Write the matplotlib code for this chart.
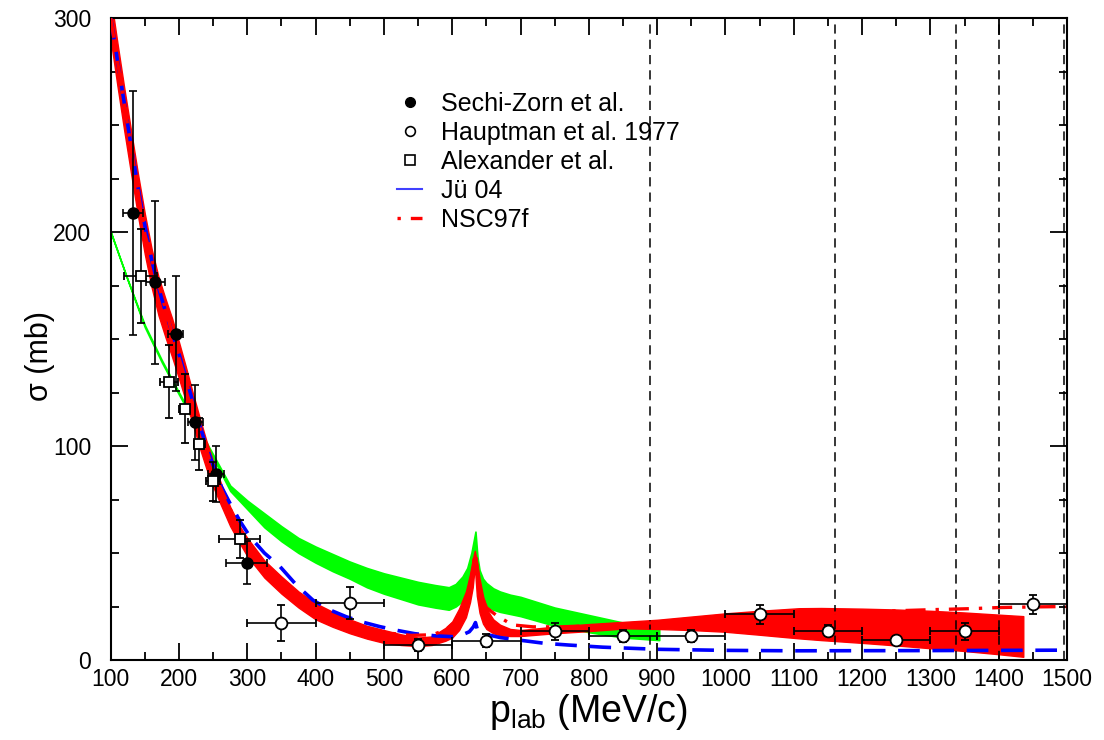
import matplotlib
matplotlib.use('Agg')
import matplotlib.pyplot as plt
from matplotlib.lines import Line2D
from matplotlib.ticker import MultipleLocator

# ---------------- data ----------------
# Sechi-Zorn et al. (filled circles)
sz_x = [133, 165, 195, 224, 254, 299]
sz_y = [209, 176.5, 152.5, 111, 87, 45.5]
sz_dy = [57, 38, 27, 17.5, 13, 10]
sz_dx = [15, 14, 11, 11, 12, 30]

# Hauptman et al. 1977 (open circles)
hp_x = [350, 450, 550, 650, 750, 850, 950, 1050, 1150, 1250, 1350, 1450]
hp_y = [17.2, 26.8, 7.0, 9.0, 13.5, 11.2, 11.2, 21.3, 13.7, 9.3, 13.5, 26.0]
hp_dy = [8.5, 7.5, 3, 3, 4, 3, 3, 4.5, 2.5, 2, 4, 4.5]
hp_dx = [50] * 12

# Alexander et al. (open squares)
al_x = [144, 185, 208.5, 229.5, 250, 289]
al_y = [179.5, 130, 117.5, 101, 83.5, 56.5]
al_dy = [22, 17, 16, 12, 9, 9]
al_dx = [24, 13, 8, 8, 10, 30]

# red band
red_x = [100, 110, 120, 130, 140, 150, 160, 170, 180, 190, 200, 210, 220, 230, 240,
         250, 262, 275, 290, 300, 325, 350, 375, 400, 425, 450, 475, 500, 525, 550,
         570, 590, 600, 610, 620, 626, 630, 633, 636, 640, 645, 650, 660, 670, 685,
         700, 750, 800, 855, 900, 950, 1000, 1050, 1108, 1140, 1200, 1250, 1300,
         1350, 1400, 1436]
red_lo = [290, 268, 247, 227, 207.5, 189.5, 174, 161, 151, 141.5, 131.5, 121, 110.5,
          99.5, 89.5, 81, 72, 62.5, 54, 48.5, 38.5, 31, 24.5, 19, 15.5, 12.5, 10, 8,
          7, 6.5, 7, 9, 10.5, 14, 20, 27, 34, 44, 30, 22, 17, 14.5, 12.5, 11.5, 11.2,
          11.2, 12.5, 13.5, 14.8, 14.5, 14, 13.2, 11.8, 10.1, 9.3, 8, 6.8, 5.5, 4.2,
          2.7, 1.5]
red_hi = [310, 288, 267, 247, 227, 208.5, 192, 179, 169, 159.5, 148.5, 137, 125,
          113.5, 102.5, 93, 82, 71.5, 62, 57, 46.5, 39, 32, 26.5, 22.5, 19, 16, 14,
          12, 10.5, 11, 15, 18, 24, 32, 40, 47, 51, 46, 38, 30, 24, 19, 16.5, 14.5,
          14, 15.6, 16.8, 17.9, 18.8, 20.3, 21.8, 23, 24.2, 24.3, 24, 23.6, 23,
          22.2, 21.2, 20.5]

# green band
green_x = [100, 125, 150, 175, 200, 225, 250, 275, 300, 325, 350, 375, 400, 425, 450,
           475, 500, 525, 550, 575, 595, 605, 615, 622, 628, 631, 634, 637, 640, 645,
           650, 660, 670, 685, 700, 750, 800, 850, 903]
green_hi = [200, 177.5, 156.5, 140, 125, 110.5, 96, 81.5, 74.5, 68.5, 62.5, 57, 53,
            49.5, 46, 43, 40.5, 38.5, 36.5, 35, 34, 35.5, 39, 43, 50, 55, 60, 48, 42,
            38, 36, 33.5, 32, 30.5, 29.5, 24.5, 21, 17.5, 15.5]
green_lo = [200, 177.5, 155.5, 139, 124, 109.5, 94.5, 79, 70.5, 62, 55.5, 50, 45.5,
            41.5, 38, 34, 31, 28.5, 26, 24.5, 23.5, 25, 27.5, 30.5, 35, 40, 46, 36, 33,
            28.5, 25.5, 23.5, 22.5, 21.5, 20.5, 16, 13, 10.5, 9.3]

# Jü 04 (blue dashed)
ju_x = [100, 110, 120, 130, 140, 150, 160, 170, 180, 190, 200, 210, 220, 230, 240, 250,
        262, 275, 290, 304, 325, 348, 372, 396, 420, 445, 470, 494, 520, 545, 575, 600,
        615, 625, 631, 634, 637, 645, 670, 698, 735, 770, 820, 900, 1000, 1100, 1300,
        1500]
ju_y = [300, 280, 260, 240, 221, 203, 187, 174, 163, 153, 143, 132, 121, 110, 100, 91,
        81, 73, 64.5, 57.6, 50, 43.6, 35, 28, 23.5, 20.2, 17.6, 15.6, 13.8, 12.3, 11.3,
        10.9, 11.8, 13.2, 15.5, 17.5, 14, 12.3, 10.5, 9.3, 7.8, 7, 6, 5, 4.5, 4.3, 4.4,
        4.6]

# NSC97f (red dash-dot)
nsc_x = [100, 150, 200, 250, 300, 350, 400, 450, 500, 540, 571, 590, 605, 615, 622,
         628, 632, 634, 637, 642, 650, 664, 688, 718, 760, 800, 900, 1000, 1100, 1200,
         1300, 1360, 1400, 1450, 1500]
nsc_y = [300, 199, 141, 88, 53, 35, 23, 16.5, 12.8, 11.5, 11.8, 14, 18, 23, 29, 38,
         47, 50, 42, 31, 24.5, 21, 16.4, 15.5, 15.5, 16, 17.5, 19.5, 21, 22.5, 23.5,
         24, 24.5, 24.8, 25]

# thresholds (vertical dashed lines)
vlines_x = [889, 1160, 1337, 1400, 1496]

# ---------------- fonts ----------------
plt.rcParams['font.family'] = ['Liberation Sans', 'DejaVu Sans']
plt.rcParams['mathtext.fontset'] = 'custom'
plt.rcParams['mathtext.rm'] = 'Liberation Sans'
plt.rcParams['mathtext.it'] = 'Liberation Sans:italic'
tick_size = 16.5

# ---------------- figure ----------------
W, H = 1104, 740
fig = plt.figure(figsize=(W / 100, H / 100), dpi=100)
L, R, T, B = 110.7, 1067, 18, 660
ax = fig.add_axes([L / W, 1 - B / H, (R - L) / W, (B - T) / H])

ax.fill_between(green_x, green_lo, green_hi, color='#00ff00', lw=1.2, zorder=1)
ax.fill_between(red_x, red_lo, red_hi, color='#ff0000', lw=1.0, zorder=2)
ax.plot(ju_x, ju_y, color='#0000ff', lw=2.6, dashes=(6, 3.5), zorder=3)
ax.plot(nsc_x, nsc_y, color='#ff0000', lw=2.4, dashes=(6, 3, 1, 3), zorder=3)

for xv in vlines_x:
    ax.axvline(xv, color='k', lw=1.1, dashes=(6, 4), zorder=2.5)

ekw = dict(ecolor='k', elinewidth=1.2, capsize=3.2, capthick=1.2, zorder=5)
ax.errorbar(sz_x, sz_y, yerr=sz_dy, xerr=sz_dx, fmt='o', mfc='k', mec='k', ms=8, **ekw)
ax.errorbar(hp_x, hp_y, yerr=hp_dy, xerr=hp_dx, fmt='o', mfc='white', mec='k',
            mew=1.3, ms=8.5, **ekw)
ax.errorbar(al_x, al_y, yerr=al_dy, xerr=al_dx, fmt='s', mfc='white', mec='k',
            mew=1.3, ms=7, **ekw)

ax.set_xlim(100, 1500)
ax.set_ylim(0, 300)
ax.xaxis.set_major_locator(MultipleLocator(100))
ax.xaxis.set_minor_locator(MultipleLocator(50))
ax.yaxis.set_major_locator(MultipleLocator(100))
ax.yaxis.set_minor_locator(MultipleLocator(25))
ax.tick_params(which='both', direction='in', top=True, right=True, width=1.3)
ax.tick_params(which='major', length=12, labelsize=tick_size)
ax.tick_params(which='minor', length=6)
ax.tick_params(axis='x', which='major', pad=5.5)
ax.tick_params(axis='y', which='major', pad=14)
for s in ax.spines.values():
    s.set_linewidth(1.5)

ax.set_xlabel(r'p$_{\mathrm{lab}}$ (MeV/c)', fontsize=27)
ax.set_ylabel('σ (mb)', fontsize=22)
ax.xaxis.set_label_coords(0.5, -0.05)
ax.yaxis.set_label_coords(-0.058, 0.473)

handles = [
    Line2D([], [], ls='none', marker='o', mfc='k', mec='k', ms=7),
    Line2D([], [], ls='none', marker='o', mfc='white', mec='k', mew=1.2, ms=7),
    Line2D([], [], ls='none', marker='s', mfc='white', mec='k', mew=1.2, ms=6.5),
    Line2D([], [], color='#4040ff', lw=1.5),
    Line2D([], [], color='#ff0000', lw=2.4, dashes=(1, 3, 6, 3)),
]
labels = ['Sechi-Zorn et al.', 'Hauptman et al. 1977', 'Alexander et al.', 'Jü 04', 'NSC97f']
ax.legend(handles, labels, loc='upper left',
          bbox_to_anchor=((397 - L) / (R - L), (B - 92) / (B - T)),
          frameon=False, fontsize=18, borderpad=0, borderaxespad=0,
          handlelength=1.0, handletextpad=0.75, labelspacing=0.2)

fig.savefig('out.png', dpi=100)
